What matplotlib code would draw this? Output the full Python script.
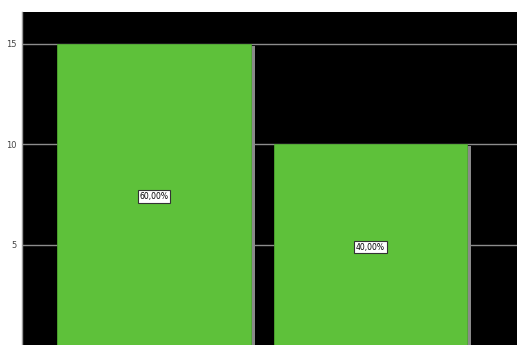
import matplotlib
matplotlib.use("Agg")
import matplotlib.pyplot as plt

categories = ["A", "B"]
counts = [15, 10]
percent_labels = ["60,00%", "40,00%"]
yticks = [5, 10, 15]

W, H = 517, 345
fig = plt.figure(figsize=(W / 100, H / 100), dpi=100)
fig.patch.set_facecolor("white")
ax = fig.add_axes([22 / W, 0, (W - 22) / W, (H - 12) / H])
ax.set_facecolor("black")

x = list(range(len(categories)))
width = 0.896
dx = 4 / 216.5
dy = 0.1
ax.bar([xi + dx for xi in x], [c - dy for c in counts], width=width,
       color="#8a8a8a", zorder=2)
ax.bar(x, counts, width=width, color="#5ec13a", edgecolor="#4fa830",
       linewidth=0.6, zorder=3)

for xi, c, lab in zip(x, counts, percent_labels):
    ax.text(xi, c / 2 - 0.12, lab, ha="center", va="center", fontsize=5.5,
            color="black", zorder=4,
            bbox=dict(boxstyle="square,pad=0.25", facecolor="white",
                      edgecolor="#333333", linewidth=0.8))

ax.set_xlim(-0.61, 1.677)
ax.set_ylim(0, 16.59)
ax.set_yticks(yticks)
ax.set_yticklabels([str(t) for t in yticks], fontsize=6, color="#444444")
ax.set_xticks([])
ax.tick_params(axis="y", length=0, pad=4)
ax.yaxis.grid(True, color="#8c8c8c", linewidth=1.0, zorder=1)
ax.set_axisbelow(True)
for s in ["top", "right", "bottom"]:
    ax.spines[s].set_visible(False)
ax.spines["left"].set_color("#9a9a9a")
ax.spines["left"].set_linewidth(1.0)

fig.savefig("out.png", dpi=100, facecolor="white")
